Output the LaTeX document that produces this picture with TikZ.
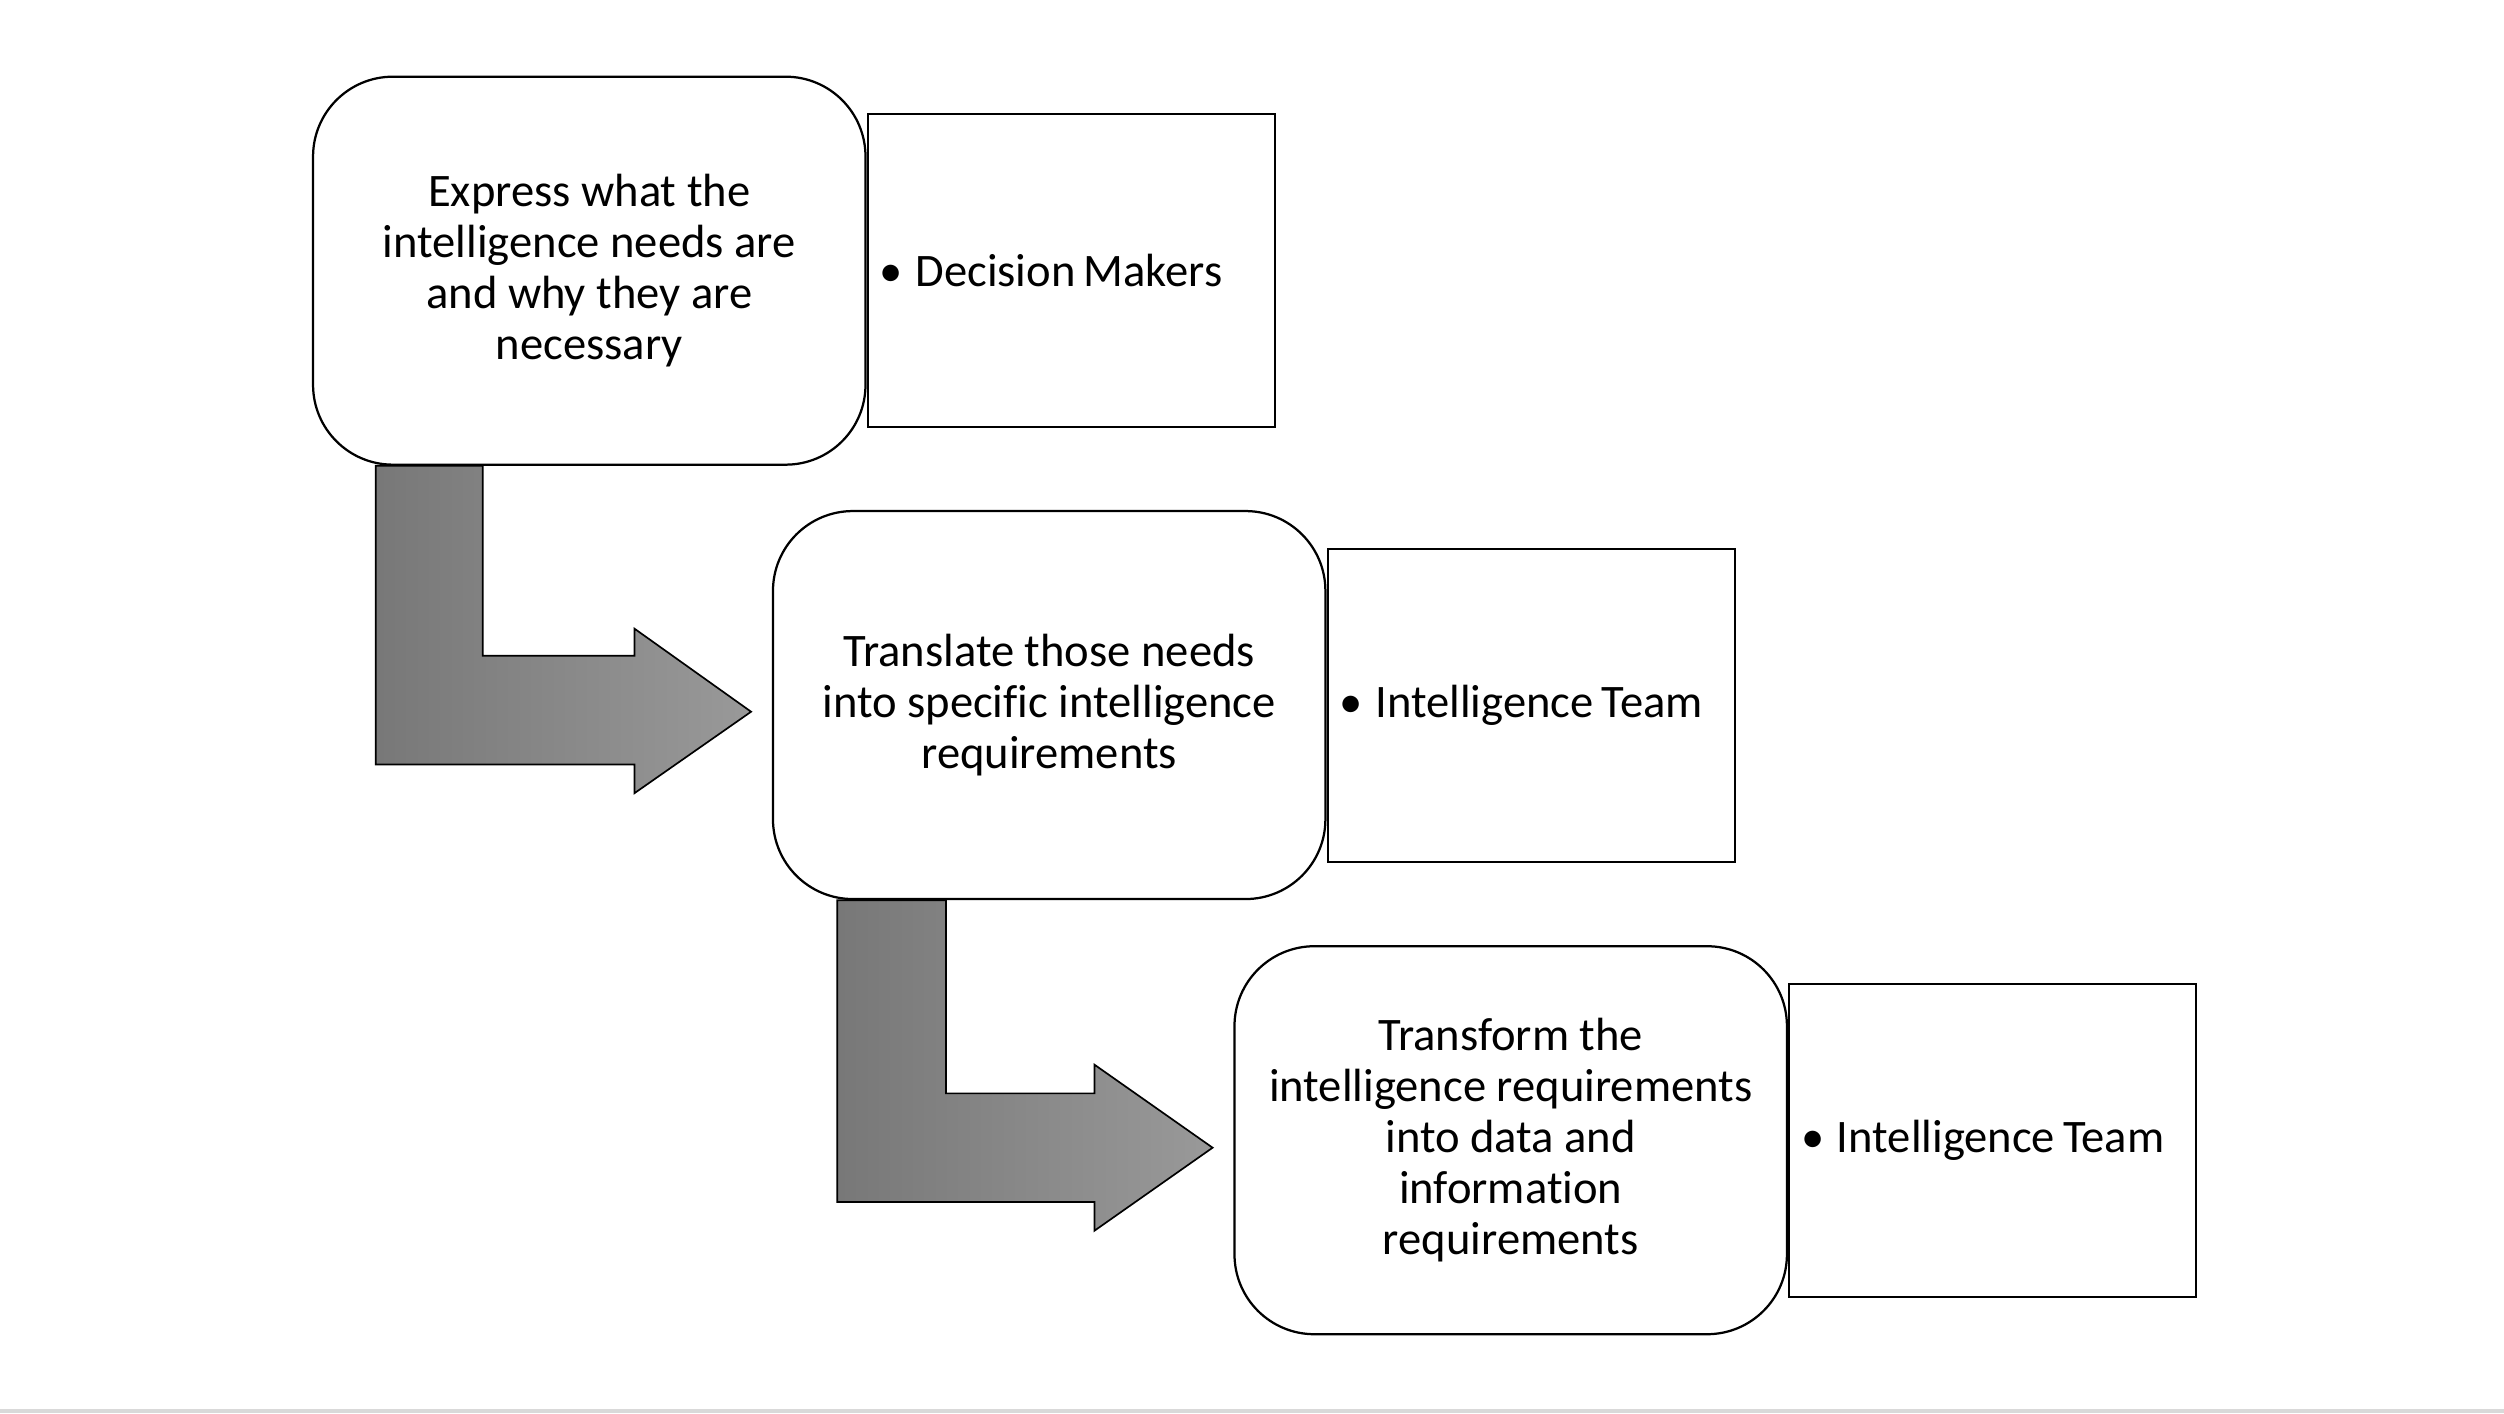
\documentclass[tikz,border=0pt]{standalone}
\usepackage{fontspec}
\setmainfont{Carlito}[Ligatures={NoCommon}]
\usetikzlibrary{positioning, backgrounds}

\begin{document}
\begin{tikzpicture}[x=0.02cm, y=-0.02cm,
        stage/.style={draw, rounded corners=1cm, fill=white, minimum width=6.92cm, minimum height=4.86cm, align=center, line width=0.8pt, font=\fontsize{16.6}{18.2}\selectfont},
        who/.style={draw, fill=white, minimum width=5.1cm, minimum height=3.92cm, inner xsep=0.15cm, text width=4.8cm, align=left, line width=0.7pt, font=\fontsize{16.6}{18.2}\selectfont},
        bentarrow/.style={draw, line width=0.6pt, left color=black!53, right color=black!40}]
        \useasboundingbox (0,0) rectangle (1568,885);

        % Draw stages
        \node[stage] (express) at (369,169.5) {Express what the\\intelligence needs are\\and why they are\\necessary};
        \node[stage] (translate) at (657,441.5) {Translate those needs\\into specific intelligence\\requirements};
        \node[stage] (transform) at (946,714) {Transform the\\intelligence requirements\\into data and\\information\\requirements};

        % Draw who does it
        \node[who, right=0pt of express.east] (makers) {\textbullet\hspace{0.16cm}Decision\hspace{0.1cm}Makers};
        \node[who, right=0pt of translate.east] (team1) {\textbullet\hspace{0.16cm}Intelligence\hspace{0.1cm}Team};
        \node[who, right=0pt of transform.east] (team2) {\textbullet\hspace{0.16cm}Intelligence\hspace{0.1cm}Team};

        % Draw bent arrows
        \begin{scope}[on background layer]
            \draw[bentarrow, shift={(express.south west)}] (40,0) -- (107,0) -- (107,119) -- (202,119) -- (202,102) -- (275,154) -- (202,205) -- (202,187) -- (40,187) -- cycle;
            \draw[bentarrow, shift={(translate.south west)}] (41,0) -- (109,0) -- (109,121) -- (202,121) -- (202,103) -- (276,155) -- (202,207) -- (202,189) -- (41,189) -- cycle;
        \end{scope}

        % Bottom edge
        \fill[black!15] (0,882) rectangle (1568,885);
    \end{tikzpicture}
\end{document}
